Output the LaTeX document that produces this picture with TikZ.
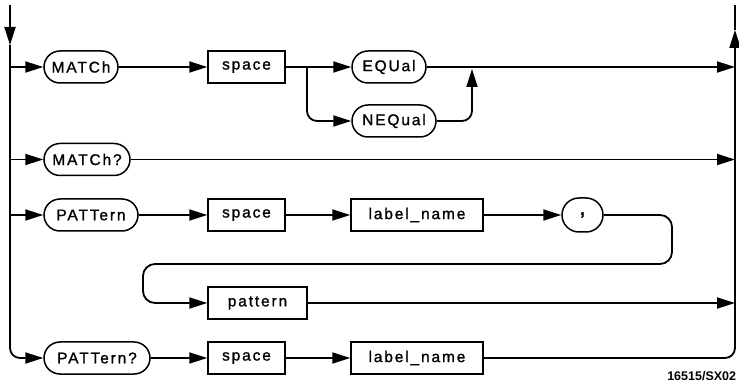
\documentclass[tikz,border=0pt]{standalone}
\usepackage{fontspec}
\setmainfont{Liberation Sans}[LetterSpace=12,FakeBold=1.2]
\newfontfamily\idfont{Liberation Sans}
\usetikzlibrary{arrows.meta,shapes.misc}
\begin{document}
\begin{tikzpicture}[x=1pt,y=-1pt,line width=1.8pt,
  >={Triangle[length=18pt,width=11pt]},
  txt/.style={font=\fontsize{15.5}{15.5}\selectfont},
  kw/.style={draw,line width=1.5pt,rounded rectangle,minimum height=32pt,inner sep=2pt,txt},
  box/.style={draw,line width=1.5pt,rectangle,minimum height=32pt,inner sep=2pt,txt},
  conn/.style={->,rounded corners=10pt}]
\useasboundingbox (0,0) rectangle (739,387);
% nodes
\node[kw,minimum width=78pt] (m1) at (81,67) {MATCh};
\node[box,minimum width=77pt] (s1) at (246.5,67) {space};
\node[kw,minimum width=78pt] (eq) at (389,67) {EQUal};
\node[kw,minimum width=88pt] (neq) at (394,121) {NEQual};
\node[kw,minimum width=90pt] (m2) at (87,159.5) {MATCh?};
\node[kw,minimum width=98pt] (p1) at (91,215) {PATTern};
\node[box,minimum width=77pt] (s2) at (246.5,215) {space};
\node[box,minimum width=132pt] (l1) at (417,215) {label\_name};
\node[kw,minimum width=45pt,minimum height=34pt,font=\fontsize{17}{17}\selectfont\bfseries] (cm) at (582.5,215) {,};
\node[box,minimum width=99pt] (pt) at (257.5,303) {pattern};
\node[kw,minimum width=110pt] (p2) at (97,358) {PATTern?};
\node[box,minimum width=77pt] (s3) at (246.5,358) {space};
\node[box,minimum width=132pt] (l2) at (417,358) {label\_name};
\node[anchor=east,inner sep=0pt,font=\idfont\bfseries\fontsize{12.5}{12.5}\selectfont] (id) at (737,376) {16515/SX02};
% coordinates
\coordinate (tl) at (10,5);
\coordinate (al) at (10,45);
\coordinate (tr) at (735,5);
\coordinate (ar) at (735,30);
\coordinate (b1) at (307,67);
\coordinate (j1) at (472,69);
\coordinate (c1) at (672,215);
\coordinate (c2) at (672,264);
\coordinate (c3) at (143,264);
\coordinate (c4) at (143,303);
% left rail
\draw[->] (tl) -- (al);
\draw[conn] (al) |- (p2.west);
\foreach \n in {m1,m2,p1} \draw[->] (al |- \n.west) -- (\n.west);
% row 1
\draw[->] (m1) -- (s1);
\draw[->] (s1) -- (eq);
\draw[conn] (b1) |- (neq.west);
\draw[conn] (neq.east) -| (j1);
\draw[->] (eq.east) -- (eq.east -| ar);
% row 2
\draw[->] (m2.east) -- (m2.east -| ar);
% row 3
\draw[->] (p1) -- (s2);
\draw[->] (s2) -- (l1);
\draw[->] (l1) -- (cm);
\draw[conn,rounded corners=12pt] (cm.east) -- (c1) -- (c2) -- (c3) -- (c4) -- (pt.west);
\draw[->] (pt.east) -- (pt.east -| ar);
% row 4
\draw[->] (p2) -- (s3);
\draw[->] (s3) -- (l2);
\draw[conn] (l2.east) -| (ar);
\draw (ar) -- (tr);
\end{tikzpicture}
\end{document}
